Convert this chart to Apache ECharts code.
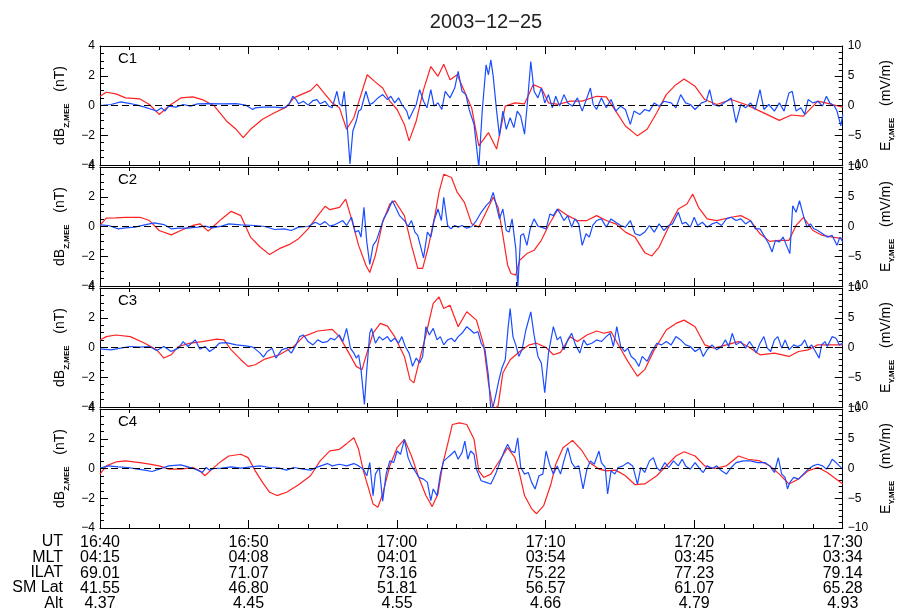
<!DOCTYPE html>
<html><head><meta charset="utf-8">
<script src="https://cdn.jsdelivr.net/npm/echarts@6/dist/echarts.min.js"></script>
<style>html,body{margin:0;padding:0;background:#fff}#c{width:904px;height:613px}</style>
</head><body><div id="c"></div>
<script>
// ---- text / labels ----
const chartTitle = '2003\u221212\u221225';
const panelNames = ['C1', 'C2', 'C3', 'C4'];
const rowNames = ['UT', 'MLT', 'ILAT', 'SM Lat', 'Alt'];
const tickMinutes = [0, 10, 20, 30, 40, 50];
const utLabels = ['16:40', '16:50', '17:00', '17:10', '17:20', '17:30'];
const mltLabels = ['04:15', '04:08', '04:01', '03:54', '03:45', '03:34'];
const ilatLabels = ['69.01', '71.07', '73.16', '75.22', '77.23', '79.14'];
const smLatLabels = ['41.55', '46.80', '51.81', '56.57', '61.07', '65.28'];
const altLabels = ['4.37', '4.45', '4.55', '4.66', '4.79', '4.93'];

// ---- data: [minutes after 16:40, value] ----
// dB_Z,MEE (nT), red, left axis
const c1B = [[0,0.62],[0.42,0.89],[1.07,0.78],[1.72,0.51],[2.69,0.44],[3.33,0.07],[3.98,-0.6],[4.63,-0.04],[5.44,0.51],[6.25,0.58],[6.89,0.4],[7.70,-0.04],[8.51,-1.04],[9.16,-1.6],[9.64,-2.16],[10.13,-1.6],[10.94,-0.93],[11.75,-0.49],[12.56,-0.09],[13.04,0.51],[13.69,0.8],[14.17,1.0],[14.60,1.44],[14.98,0.96],[15.63,0.18],[16.12,-0.16],[16.60,-1.6],[17.09,-0.82],[17.57,0.73],[17.99,2.07],[18.48,1.62],[19.03,1.18],[19.51,0.29],[20.00,-0.27],[20.49,-1.27],[20.81,-2.38],[21.29,-1.04],[21.78,1.07],[22.27,2.62],[22.75,1.96],[23.14,2.78],[23.56,1.73],[24.05,2.07],[24.53,0.96],[25.02,-0.16],[25.50,-2.71],[26.15,-1.82],[26.70,-2.93],[27.28,-0.04],[27.93,0.18],[28.58,0.11],[29.16,1.4],[29.71,1.18],[30.19,0.18],[30.84,0.07],[31.65,0.29],[32.46,0.29],[33.43,0.62],[34.08,0.58],[34.72,-0.38],[35.37,-1.38],[36.18,-2.04],[36.83,-1.6],[37.48,-0.49],[38.12,0.73],[38.77,1.4],[39.32,1.78],[40.06,1.29],[40.71,0.4],[41.52,0.07],[42.49,0.4],[43.46,0.07],[44.43,-0.38],[45.73,-1.0],[46.54,-0.64],[47.35,-0.71],[48.32,0.29],[49.29,0.07],[50,-0.11]];
const c2B = [[0,0.07],[0.42,0.56],[1.07,0.58],[1.72,0.62],[2.69,0.62],[3.33,0.4],[3.98,-0.27],[4.79,-0.56],[5.44,-0.27],[6.25,0.07],[6.73,0.18],[7.28,-0.31],[7.70,0.07],[8.19,0.51],[8.83,1.02],[9.48,0.73],[10.13,-0.71],[10.78,-1.38],[11.42,-1.89],[12.07,-1.49],[12.72,-1.22],[13.37,-0.82],[14.01,-0.16],[14.66,0.73],[15.15,1.36],[15.47,1.13],[16.12,1.29],[16.54,1.84],[16.93,0.51],[17.41,-1.27],[17.90,-2.6],[18.16,-3.09],[18.54,-1.93],[19.03,0.29],[19.51,1.51],[19.84,1.73],[20.49,0.73],[20.97,-1.27],[21.39,-2.82],[21.72,-2.82],[22.10,-1.38],[22.59,0.96],[22.82,2.29],[23.14,3.51],[23.66,3.29],[24.05,2.29],[24.53,1.62],[25.02,0.18],[25.50,-0.04],[25.99,0.96],[26.47,1.96],[26.80,1.29],[27.12,-0.6],[27.44,-2.6],[27.67,-3.16],[27.99,-3.27],[28.25,-2.27],[28.74,-1.82],[29.22,-1.6],[29.71,-0.93],[30.19,0.07],[30.84,1.18],[31.49,0.73],[32.14,0.4],[32.78,0.4],[33.43,0.73],[34.08,0.4],[34.72,0.18],[35.37,-0.38],[36.02,-0.71],[36.67,-1.76],[37.15,-1.98],[37.64,-1.38],[38.28,-0.04],[38.93,1.18],[39.51,1.51],[39.90,2.18],[40.29,1.29],[40.87,0.51],[41.52,0.4],[42.49,0.62],[43.14,0.73],[43.79,0.4],[44.43,-0.49],[45.08,-1.0],[45.73,-0.93],[46.38,-0.93],[46.86,0.07],[47.35,0.62],[47.99,-0.27],[48.64,-0.6],[49.29,-0.71],[50,-0.82]];
const c3B = [[0,0.51],[0.42,0.73],[1.07,0.84],[2.04,0.73],[3.01,0.29],[3.82,-0.16],[4.30,-0.71],[4.79,-0.49],[5.28,0.07],[6.08,0.29],[6.89,0.4],[7.86,0.56],[8.35,0.51],[8.83,-0.16],[9.48,-0.82],[9.97,-1.27],[10.45,-1.16],[11.10,-0.78],[12.07,-0.49],[13.04,0.07],[13.69,0.73],[14.66,1.11],[15.63,1.22],[16.12,0.73],[16.76,-0.38],[17.25,-1.27],[17.64,-1.49],[17.90,-0.6],[18.38,0.96],[18.87,1.62],[19.35,1.44],[19.84,0.73],[20.49,-0.6],[20.87,-2.16],[21.13,-2.38],[21.46,-1.04],[21.94,0.84],[22.43,2.96],[22.82,3.4],[23.14,2.62],[23.56,2.84],[24.11,1.4],[24.69,2.4],[25.34,1.84],[25.83,0.18],[26.15,-2.38],[26.47,-4.16],[26.80,-3.93],[27.12,-1.71],[27.61,-0.82],[28.25,-0.27],[28.90,0.18],[29.39,0.29],[30.03,0],[30.52,-0.49],[31.00,-0.33],[31.65,0.73],[32.14,0.4],[32.78,0.84],[33.43,1.11],[33.92,0.96],[34.40,1.07],[34.89,0.18],[35.53,-0.93],[36.18,-1.93],[36.67,-1.49],[37.31,-0.16],[38.12,1.18],[38.77,1.62],[39.32,1.84],[40.06,1.4],[40.71,0.18],[41.36,-0.04],[42.17,0.18],[42.98,0.4],[43.62,0.07],[44.43,-0.49],[45.40,-0.38],[46.38,-0.6],[47.02,-0.27],[47.67,-0.16],[48.32,0.18],[48.96,0.18],[50,0.18]];
const c4B = [[0,-0.38],[0.42,0.18],[1.07,0.44],[1.72,0.51],[2.69,0.4],[3.33,0.29],[3.98,0.18],[4.63,-0.04],[5.44,-0.04],[6.25,0.07],[6.73,-0.16],[7.06,-0.49],[7.54,-0.04],[8.19,0.51],[8.67,0.84],[9.48,0.96],[9.97,0.73],[10.45,-0.16],[10.94,-0.93],[11.42,-1.6],[11.91,-1.82],[12.56,-1.6],[13.37,-1.09],[14.17,-0.49],[14.82,0.51],[15.47,1.18],[16.12,1.29],[16.60,1.67],[17.09,2.07],[17.41,1.29],[17.73,-0.16],[18.06,-1.27],[18.38,-2.38],[18.71,-2.6],[19.03,-1.71],[19.51,0.18],[20.00,1.4],[20.49,1.96],[20.97,0.84],[21.46,-0.6],[21.94,-1.82],[22.36,-2.56],[22.75,-1.71],[23.07,0.29],[23.40,1.62],[23.72,2.96],[24.21,3.07],[24.69,2.96],[25.18,1.96],[25.50,-0.16],[25.83,-0.6],[26.31,-0.38],[26.96,0.62],[27.44,1.4],[27.93,0.73],[28.25,-0.38],[28.58,-1.82],[29.06,-2.71],[29.39,-3.04],[29.87,-2.49],[30.36,-1.04],[30.68,0.29],[31.17,1.4],[31.81,1.89],[32.46,1.18],[32.94,0.4],[33.59,-0.04],[34.08,-0.16],[34.72,-0.11],[35.37,-0.49],[36.02,-1.09],[36.67,-1.04],[37.48,-0.49],[38.12,0.18],[38.77,0.84],[39.32,1.13],[40.06,0.84],[40.71,0.18],[41.36,0],[42.17,0.18],[42.98,0.84],[43.62,0.62],[44.43,0.51],[45.08,0.18],[45.73,-0.38],[46.38,-1.04],[47.02,-0.71],[47.67,-0.16],[48.32,0.07],[48.96,-0.27],[50,-1.04]];
// E_Y,MEE (mV/m), blue, right axis
const c1E = [[0,0],[0.74,0.17],[1.39,0.61],[2.04,0.33],[2.52,0.06],[3.01,-0.28],[3.5,-0.67],[3.82,-0.94],[4.14,-0.39],[4.37,-0.94],[4.63,-0.11],[5.11,-0.28],[5.6,0.17],[6.08,-0.11],[6.57,0.28],[7.22,0.33],[8.19,0.28],[9.16,0.33],[9.81,0.06],[10.29,-0.67],[10.45,-0.39],[10.94,-0.28],[11.75,-0.28],[12.39,-0.39],[12.72,0.17],[12.98,1.56],[13.2,1.0],[13.37,0.28],[13.69,0.72],[14.01,0.06],[14.34,0.83],[14.6,1.0],[14.82,0.28],[15.15,0.72],[15.4,-0.11],[15.63,-0.39],[15.95,2.39],[16.12,0.28],[16.28,-0.11],[16.44,2.39],[16.6,-2.06],[16.83,-9.83],[17.02,-4.28],[17.25,-2.61],[17.41,-0.94],[17.57,-0.67],[17.9,2.39],[18.16,0.17],[18.38,0.44],[18.71,1.28],[19.03,1.83],[19.35,1.0],[19.58,1.56],[19.84,0.44],[20.1,1.28],[20.32,0.17],[20.65,-0.94],[20.81,-2.33],[21.07,-0.94],[21.29,0.17],[21.52,2.67],[21.78,0.72],[22.01,-0.39],[22.27,2.67],[22.49,-0.11],[22.75,0.44],[23.01,-0.67],[23.24,2.39],[23.56,1.28],[23.88,2.94],[24.11,5.72],[24.37,2.39],[24.63,1.83],[24.85,-0.67],[25.18,-3.17],[25.5,-10.4],[25.73,-0.94],[25.99,6.83],[26.15,5.17],[26.31,7.67],[26.47,4.89],[26.7,-0.94],[26.89,-5.11],[27.12,-0.94],[27.35,-4.0],[27.61,-2.06],[27.86,-3.72],[28.09,-0.94],[28.32,-1.78],[28.58,-4.83],[28.8,1.28],[29.0,7.39],[29.22,2.39],[29.48,1.28],[29.71,2.94],[29.94,0.44],[30.19,1.83],[30.45,-0.39],[30.68,1.56],[30.94,-0.11],[31.23,1.83],[31.49,0.44],[31.81,-0.11],[32.14,1.28],[32.46,-0.94],[32.78,1.28],[33.01,2.94],[33.2,0.17],[33.43,-0.67],[33.75,1.28],[34.08,-0.39],[34.4,1.0],[34.72,-0.94],[35.05,-0.11],[35.37,-0.67],[35.7,-3.17],[35.95,-0.94],[36.34,-1.5],[36.67,-0.67],[36.99,-0.94],[37.31,0.44],[37.64,-0.11],[37.96,0.72],[38.45,0.44],[38.77,-0.39],[39.09,1.83],[39.42,0.44],[39.74,0.17],[40.06,-0.67],[40.49,0.44],[40.81,0.72],[41.04,2.67],[41.26,0.17],[41.68,-0.11],[42.17,0.72],[42.49,1.28],[42.82,-2.89],[43.14,0.17],[43.46,-0.39],[43.79,0.44],[44.11,-0.67],[44.43,2.67],[44.69,-0.67],[45.02,0.17],[45.4,-0.94],[45.73,0.44],[46.05,-0.94],[46.38,2.11],[46.6,2.39],[46.86,-0.94],[47.18,-0.39],[47.44,-1.5],[47.67,1.0],[47.99,0.44],[48.32,0.72],[48.64,-0.11],[48.9,1.56],[49.13,0.44],[49.45,-0.11],[49.61,-0.94],[49.87,-3.44],[50,-1.5]];
const c2E = [[0,0.28],[0.58,0.17],[1.23,-0.39],[1.72,-0.22],[2.36,-0.11],[3.01,0.28],[3.66,0.61],[4.30,0.33],[4.79,-0.39],[5.28,-0.28],[5.92,-0.28],[6.57,-0.11],[7.06,0.06],[7.54,-0.22],[8.19,0.06],[8.67,0.44],[9.48,0.28],[10.45,0.17],[11.10,0],[11.75,-0.5],[12.39,-0.39],[12.88,-0.67],[13.37,-0.11],[14.01,0],[14.50,0.72],[14.82,0.28],[15.15,0.83],[15.47,0.06],[15.79,0.28],[16.12,0.72],[16.34,1.0],[16.60,0.17],[16.93,1.56],[17.18,-0.94],[17.41,-0.67],[17.57,-1.78],[17.77,3.22],[17.96,-2.61],[18.16,-6.39],[18.38,-3.17],[18.61,-2.33],[18.87,-0.39],[19.09,1.28],[19.35,2.39],[19.68,4.33],[19.90,3.22],[20.16,1.83],[20.49,1.0],[20.74,0],[20.97,1.0],[21.20,-0.94],[21.39,-1.5],[21.62,-3.72],[21.78,-5.28],[22.04,-0.94],[22.27,-1.78],[22.49,1.0],[22.75,2.94],[22.98,1.0],[23.14,4.89],[23.40,0.17],[23.62,-0.39],[23.88,0.17],[24.11,-0.11],[24.37,0.17],[24.69,-0.28],[25.02,0],[25.34,1.0],[25.66,2.39],[25.99,3.5],[26.25,4.17],[26.47,5.72],[26.63,4.06],[26.89,1.28],[27.12,2.94],[27.35,-0.67],[27.54,-0.94],[27.74,1.28],[27.99,-3.72],[28.12,-10.4],[28.32,-1.5],[28.51,-1.22],[28.74,-3.17],[28.96,-0.39],[29.22,1.28],[29.48,0.06],[29.71,-0.11],[30.03,-0.39],[30.29,2.11],[30.52,1.83],[30.78,2.94],[31.00,2.11],[31.23,1.0],[31.49,1.83],[31.75,-0.11],[31.97,1.28],[32.23,0.44],[32.46,-3.17],[32.72,-1.22],[32.94,-1.78],[33.17,0.17],[33.43,1.0],[33.75,1.28],[34.08,-0.11],[34.40,1.28],[34.72,0.72],[35.05,0.17],[35.37,-0.11],[35.70,1.0],[36.02,-1.22],[36.34,-1.5],[36.67,-0.94],[36.99,0.17],[37.31,-0.94],[37.64,0.44],[37.96,-0.67],[38.28,0.17],[38.54,0.44],[38.93,2.39],[39.19,0.44],[39.42,0.72],[39.74,-0.11],[40.00,1.56],[40.23,0.17],[40.55,0.72],[40.87,-0.11],[41.20,0.44],[41.52,0.72],[41.84,0.17],[42.17,1.28],[42.49,1.56],[42.82,1.0],[43.14,1.28],[43.46,0.44],[43.79,1.0],[44.11,-0.39],[44.43,-0.39],[44.76,-1.78],[45.02,-2.89],[45.24,-4.28],[45.47,-2.33],[45.73,-2.61],[45.99,-1.78],[46.21,-3.17],[46.44,-4.56],[46.63,3.5],[46.86,2.39],[47.09,4.33],[47.35,1.83],[47.60,-0.11],[47.83,0.44],[48.06,-0.39],[48.32,-0.67],[48.64,-1.22],[48.96,-1.78],[49.29,-1.5],[49.61,-3.17],[49.81,-1.78],[50,-2.61]];
const c3E = [[0,-0.22],[0.74,-0.39],[1.39,-0.11],[2.04,0.17],[2.69,0.06],[3.33,0.17],[3.82,-0.5],[4.30,0.17],[4.79,-0.67],[5.28,-0.11],[5.60,1.0],[5.92,0.17],[6.41,1.28],[6.73,-0.28],[7.06,0.17],[7.38,-0.67],[7.70,-0.11],[8.03,0.72],[8.51,0.83],[9.16,0.44],[9.81,0.28],[10.29,0.06],[10.78,-0.94],[11.00,-1.61],[11.26,-0.67],[11.59,-0.11],[11.84,-1.78],[12.23,-0.39],[12.56,-0.11],[12.88,-0.94],[13.20,0.44],[13.43,1.83],[13.69,2.11],[14.01,1.0],[14.34,0.44],[14.66,1.28],[14.98,0.83],[15.31,1.0],[15.53,1.56],[15.79,1.28],[16.12,2.11],[16.34,1.0],[16.60,3.22],[16.86,-0.11],[17.09,-0.94],[17.25,-1.78],[17.41,-1.22],[17.57,-3.72],[17.80,-9.56],[17.96,-3.72],[18.16,2.39],[18.28,3.22],[18.54,0.72],[18.80,1.83],[19.03,1.28],[19.35,1.83],[19.58,1.0],[19.84,1.56],[20.10,0.72],[20.32,1.83],[20.55,0.17],[20.81,-0.94],[21.04,-3.17],[21.29,-1.78],[21.52,-2.61],[21.72,-1.5],[21.94,3.5],[22.17,2.11],[22.43,3.22],[22.69,1.28],[22.91,1.83],[23.14,0.44],[23.40,1.28],[23.66,1.56],[23.88,1.0],[24.11,1.83],[24.37,2.39],[24.69,3.5],[24.95,2.94],[25.18,2.39],[25.44,2.67],[25.66,0.72],[25.92,-0.39],[26.15,-4.83],[26.31,-10.4],[26.47,-9.83],[26.63,-8.17],[26.86,-5.39],[27.06,-3.44],[27.28,-2.06],[27.48,3.5],[27.61,6.56],[27.80,1.83],[27.99,0.44],[28.19,-1.5],[28.41,-0.39],[28.67,2.94],[29.00,6.0],[29.22,2.11],[29.48,-1.5],[29.71,-2.61],[29.94,-7.61],[30.19,-0.94],[30.52,3.5],[30.78,1.28],[31.00,1.83],[31.23,-0.39],[31.49,1.28],[31.75,2.39],[32.01,0.44],[32.30,-0.94],[32.56,1.28],[32.78,0.44],[33.11,0.72],[33.43,1.28],[33.75,1.0],[34.08,1.83],[34.34,2.39],[34.56,0.17],[34.79,3.5],[35.05,0.17],[35.31,-0.67],[35.53,-0.11],[35.76,-1.5],[36.02,-2.06],[36.28,-3.17],[36.50,-1.5],[36.83,-2.33],[37.15,-0.67],[37.48,0.72],[37.80,0.44],[38.12,1.0],[38.45,0.44],[38.77,1.83],[39.09,1.28],[39.42,0.44],[39.74,0.17],[40.06,-0.67],[40.39,-0.11],[40.61,-1.5],[40.87,-0.39],[41.20,0.44],[41.52,-0.39],[41.84,0.17],[42.10,1.28],[42.33,0.17],[42.56,2.39],[42.82,0.44],[43.14,1.0],[43.46,-0.11],[43.72,1.0],[43.95,0.17],[44.17,-0.94],[44.43,0.72],[44.69,1.83],[44.92,-0.11],[45.15,-0.67],[45.40,1.28],[45.63,1.83],[45.89,-0.11],[46.12,1.28],[46.38,-0.39],[46.70,0.44],[46.96,0.17],[47.22,0.44],[47.44,1.28],[47.67,-0.11],[47.90,0.44],[48.16,-0.67],[48.41,-1.78],[48.58,0.44],[48.80,1.0],[48.96,0.17],[49.29,1.83],[49.55,1.56],[49.77,0.44],[50,0.72]];
const c4E = [[0,0.06],[0.58,0.44],[1.23,0.28],[1.88,0.17],[2.52,-0.11],[3.01,-0.28],[3.50,-0.5],[3.98,-0.11],[4.63,0.44],[5.44,0.61],[5.92,0.28],[6.41,-0.11],[6.89,-0.67],[7.15,0.17],[7.38,-0.28],[7.70,0],[8.19,0.06],[8.83,0.28],[9.48,0.06],[10.13,0.28],[10.78,0.44],[11.42,0.17],[12.07,0.06],[12.56,-0.28],[13.04,0.17],[13.69,-0.11],[14.17,-0.28],[14.66,0.28],[15.31,0.83],[15.63,0.44],[16.12,0.72],[16.60,0.44],[17.09,0.83],[17.41,0.44],[17.73,-0.11],[17.96,-1.22],[18.16,1.0],[18.38,-4.56],[18.54,-0.94],[18.80,0.17],[19.03,-5.5],[19.26,-0.94],[19.51,1.28],[19.77,1.0],[20.00,2.94],[20.23,2.39],[20.49,4.89],[20.74,1.83],[20.97,0.44],[21.20,-0.39],[21.46,-1.5],[21.78,-1.78],[22.04,-2.33],[22.27,-5.39],[22.43,-3.44],[22.69,-4.56],[22.91,-0.94],[23.14,1.28],[23.40,1.83],[23.66,2.39],[23.88,2.94],[24.11,1.56],[24.37,2.67],[24.56,4.61],[24.76,1.56],[24.95,2.94],[25.18,2.39],[25.34,-0.11],[25.66,-2.06],[25.99,-2.33],[26.31,-2.61],[26.63,-0.94],[26.96,1.28],[27.22,2.94],[27.44,4.06],[27.67,2.94],[27.93,2.67],[28.12,5.17],[28.32,0.17],[28.58,-0.94],[28.83,-0.67],[29.06,-2.33],[29.29,-3.44],[29.55,-1.22],[29.81,-0.94],[30.03,2.94],[30.26,0.72],[30.52,-0.94],[30.78,0.44],[31.00,-0.94],[31.23,1.28],[31.49,3.5],[31.75,1.0],[31.97,0.17],[32.23,0.44],[32.52,-3.44],[32.78,-0.11],[33.01,1.28],[33.27,0.72],[33.59,2.94],[33.75,1.0],[34.01,0.17],[34.17,-4.28],[34.40,-0.39],[34.66,-0.94],[34.89,0.17],[35.21,0.44],[35.53,1.0],[35.86,0.44],[36.18,-2.61],[36.41,0.17],[36.67,-0.67],[36.99,1.28],[37.25,1.83],[37.48,0.17],[37.70,-0.39],[38.03,1.0],[38.28,0.17],[38.61,1.28],[38.93,0.44],[39.19,1.56],[39.42,0.44],[39.74,-0.11],[40.06,1.0],[40.39,-0.11],[40.61,-0.67],[40.87,0.44],[41.20,0],[41.52,0.44],[41.84,-0.39],[42.17,-0.94],[42.49,0.17],[42.82,1.0],[43.30,1.28],[43.79,1.28],[44.27,1.0],[44.76,1.0],[45.08,0.44],[45.40,-0.67],[45.66,1.83],[45.89,-0.94],[46.12,-1.5],[46.28,-3.44],[46.44,-2.33],[46.70,-1.5],[47.02,-1.78],[47.35,-0.94],[47.67,-0.11],[47.99,0.44],[48.32,0.72],[48.64,0.44],[48.90,-0.11],[49.13,0.72],[49.29,1.56],[49.55,1.0],[49.77,0.44],[50,-0.11]];

const dBSeries = [c1B, c2B, c3B, c4B];
const eSeries = [c1E, c2E, c3E, c4E];

// ---- chart ----
const FONT = '"Liberation Sans", Arial, Helvetica, sans-serif';
const tops = [46, 167, 288, 409];
const H = 119;
const minus = s => String(s).replace('-', '\u2212');
const grids = [], xAxes = [], yAxes = [], series = [], graphics = [];

const tickStyle = {color: '#000', width: 1};
for (let i = 0; i < 4; i++) {
  grids.push({left: 100, right: 56, top: tops[i], height: H, show: false});
  const baseX = {
    gridIndex: i, type: 'value', min: 0, max: 50, interval: 10,
    axisLine: {show: true, onZero: false, lineStyle: tickStyle},
    axisTick: {show: true, inside: true, length: 8, lineStyle: tickStyle},
    minorTick: {show: true, splitNumber: 5, length: 4, lineStyle: tickStyle},
    splitLine: {show: false}, minorSplitLine: {show: false}
  };
  xAxes.push(Object.assign({}, baseX, {
    position: 'bottom',
    axisLabel: i === 3 ? {
      show: true, color: '#000', fontFamily: FONT, fontSize: 16, lineHeight: 15.3, margin: 7,
      showMinLabel: true, showMaxLabel: true,
      formatter: v => {
        const k = tickMinutes.indexOf(Math.round(v));
        if (k < 0) return '';
        return [utLabels[k], mltLabels[k], ilatLabels[k], smLatLabels[k], altLabels[k]].join('\n');
      }
    } : {show: false}
  }));
  xAxes.push(Object.assign({}, baseX, {position: 'top', axisLabel: {show: false}}));

  yAxes.push({
    gridIndex: i, type: 'value', min: -4, max: 4, interval: 2, position: 'left',
    axisLine: {show: true, onZero: false, lineStyle: tickStyle},
    axisTick: {show: true, inside: true, length: 8, lineStyle: tickStyle},
    minorTick: {show: true, splitNumber: 4, length: 4, lineStyle: tickStyle},
    splitLine: {show: false},
    axisLabel: {color: '#000', fontFamily: FONT, fontSize: 12, margin: 5, formatter: minus},
    name: '{m|dB}{s|Z,MEE}{m|   (nT)}', nameLocation: 'middle', nameRotate: 90, nameGap: 26,
    nameTextStyle: {color: '#000', fontFamily: FONT, rich: {
      m: {fontSize: 14, fontFamily: FONT, color: '#000', lineHeight: 18, verticalAlign: 'bottom'},
      s: {fontSize: 8, fontFamily: FONT, fontWeight: 'bold', color: '#000', lineHeight: 18, verticalAlign: 'bottom', padding: [0, 0, -3, 0]}
    }}
  });
  yAxes.push({
    gridIndex: i, type: 'value', min: -10, max: 10, interval: 5, position: 'right',
    axisLine: {show: true, onZero: false, lineStyle: tickStyle},
    axisTick: {show: true, inside: true, length: 8, lineStyle: tickStyle},
    minorTick: {show: true, splitNumber: 5, length: 4, lineStyle: tickStyle},
    splitLine: {show: false},
    axisLabel: {color: '#000', fontFamily: FONT, fontSize: 12, margin: 5, formatter: minus},
    name: '{m|E}{s|Y,MEE}{m|   (mV/m)}', nameLocation: 'middle', nameRotate: 90, nameGap: 30,
    nameTextStyle: {color: '#000', fontFamily: FONT, rich: {
      m: {fontSize: 14, fontFamily: FONT, color: '#000', lineHeight: 18, verticalAlign: 'bottom'},
      s: {fontSize: 8, fontFamily: FONT, fontWeight: 'bold', color: '#000', lineHeight: 18, verticalAlign: 'bottom', padding: [0, 0, -3, 0]}
    }}
  });

  series.push({
    type: 'line', xAxisIndex: 2 * i, yAxisIndex: 2 * i, data: dBSeries[i],
    showSymbol: false, symbol: 'none', clip: true, z: 3,
    lineStyle: {color: '#ff2222', width: 1.2},
    markLine: {silent: true, symbol: 'none', label: {show: false}, animation: false, z: 5,
      lineStyle: {color: '#000', type: [7, 4], width: 1.2}, data: [{yAxis: 0}]}
  });
  series.push({
    type: 'line', xAxisIndex: 2 * i, yAxisIndex: 2 * i + 1, data: eSeries[i],
    showSymbol: false, symbol: 'none', clip: true, z: 4,
    lineStyle: {color: '#1a4dff', width: 1.2}
  });

  graphics.push({type: 'text', left: 118, top: tops[i] + 5, z: 10,
    style: {text: panelNames[i], fill: '#000', font: '15px ' + FONT}});
}

graphics.push({type: 'text', right: 904 - 63, top: 534, z: 10,
  style: {text: rowNames.join('\n'), fill: '#000', font: '16px ' + FONT, lineHeight: 15.3, textAlign: 'right'}});

const chart = echarts.init(document.getElementById('c'), null, {renderer: 'canvas'});
chart.setOption({
  animation: false,
  backgroundColor: '#fff',
  title: {text: chartTitle, left: 481, top: 7, textAlign: 'center',
    textStyle: {fontFamily: FONT, fontSize: 20, fontWeight: 'normal', color: '#222'}},
  grid: grids, xAxis: xAxes, yAxis: yAxes, series: series, graphic: graphics
});
</script></body></html>
